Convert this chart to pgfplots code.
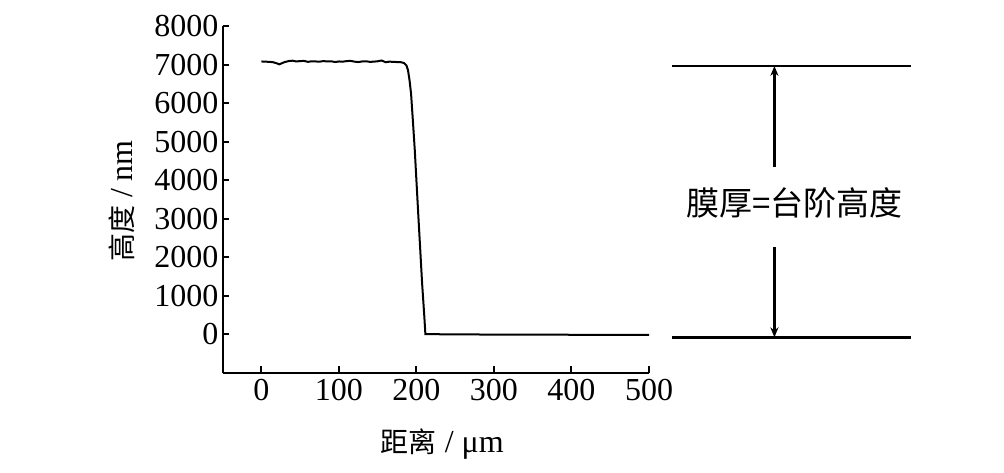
\documentclass[border=0pt]{standalone}
\usepackage{pgfplots}
\pgfplotsset{compat=1.18}
\usepackage{fontspec}
\setmainfont{Liberation Serif}
\newfontfamily\cjk{Noto Sans CJK SC}
\usetikzlibrary{arrows.meta}
\begin{document}
\begin{tikzpicture}
\useasboundingbox (-111.35pt,-49.65pt) rectangle (390.65pt,186.35pt);
\begin{axis}[
  scale only axis, width=213.15pt, height=173.35pt,
  xmin=-50, xmax=500, ymin=-1000, ymax=8000,
  axis x line*=bottom, axis y line*=left,
  axis line style={line width=1pt, -},
  tick align=inside, major tick length=3.3pt,
  tick style={line width=1pt, black},
  xtick={0,100,...,500}, ytick={0,1000,...,8000},
  scaled ticks=false,
  /pgf/number format/1000 sep={},
  /pgf/number format/assume math mode=true,
  ticklabel style={font=\fontsize{16}{16}\selectfont},
  yticklabel style={inner sep=2pt},
  xticklabel style={inner sep=3pt},
  xlabel={{\cjk\fontsize{14}{14}\selectfont 距离} / μm},
  ylabel={{\cjk\fontsize{14}{14}\selectfont 高度} / nm},
  xlabel style={at={(axis description cs:0.515,-0.207)}, anchor=center, font=\fontsize{16}{16}\selectfont},
  ylabel style={at={(axis description cs:-0.237,0.495)}, anchor=center, font=\fontsize{16}{16}\selectfont},
  clip=false,
]
\addplot[black, line width=1pt] coordinates {
(0,7080) (5,7075) (10,7070) (15,7060) (20,7030) (23,7005) (27,7040) (30,7065)
(35,7090) (40,7100) (45,7080) (50,7090) (55,7095) (60,7070) (65,7085) (70,7080)
(75,7075) (80,7090) (85,7080) (90,7085) (95,7065) (100,7080) (105,7075) (110,7090)
(115,7095) (120,7075) (125,7065) (130,7080) (135,7085) (140,7070) (145,7075)
(150,7085) (155,7105) (158,7080) (160,7060) (165,7075) (170,7070) (175,7065)
(180,7060) (184,7040) (187,6980) (189,6860) (191,6600) (193,6250) (195.5,5500)
(197.8,4780) (202.5,3040) (204,2500) (207.3,1310) (210,500) (211.5,0) (220,0)
(250,-5) (300,-10) (350,-10) (400,-15) (450,-15) (500,-20)
};
\draw[line width=1.35pt] (axis cs:530,6966) -- (axis cs:838.5,6966);
\draw[line width=1.35pt] (axis cs:530,-83) -- (axis cs:838.5,-83);
\draw[line width=1.35pt, -{Stealth[length=5pt,width=4pt]}] (axis cs:661.8,4336) -- (axis cs:661.8,6966);
\draw[line width=1.35pt, -{Stealth[length=5pt,width=4pt]}] (axis cs:661.8,2252) -- (axis cs:661.8,-83);
\node[font=\cjk\fontsize{16.5}{16.5}\selectfont] at (axis cs:687.6,3398) {膜厚=台阶高度};
\end{axis}
\end{tikzpicture}
\end{document}
